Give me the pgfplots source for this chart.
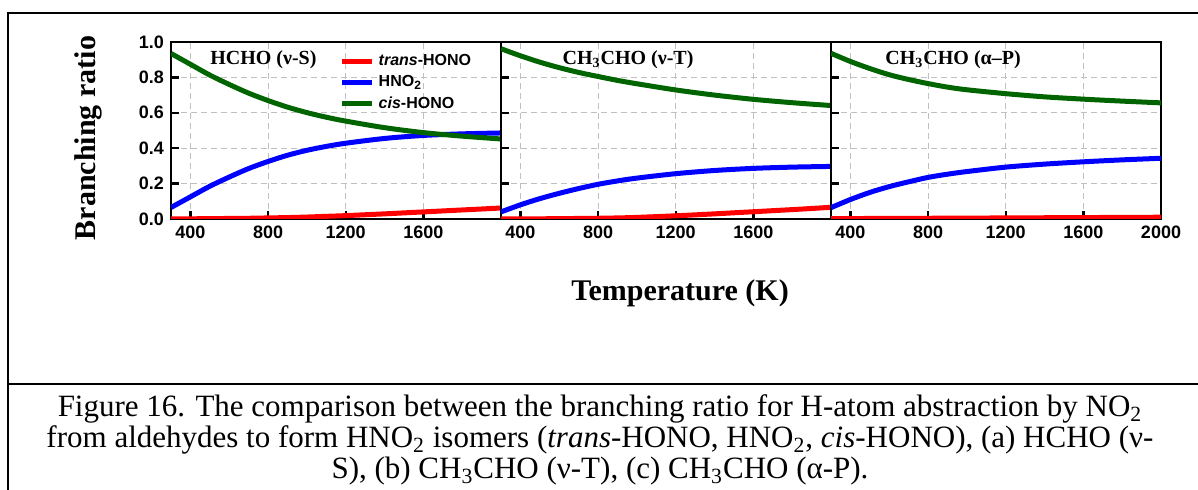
\documentclass[border=0pt]{standalone}
\usepackage{fontspec}
\setmainfont{Liberation Serif}
\setsansfont{Liberation Sans}
\usepackage{pgfplots}
\usepackage{pgfplotstable}
\pgfplotsset{compat=1.18}
\definecolor{dgreen}{RGB}{0,100,0}

\pgfplotstableread{
T     tr     hno2   cis
300   0.000  0.065  0.935
400   0.001  0.125  0.874
500   0.002  0.185  0.813
600   0.003  0.237  0.760
700   0.004  0.285  0.711
800   0.006  0.325  0.669
900   0.008  0.360  0.632
1000  0.011  0.388  0.601
1100  0.015  0.410  0.575
1200  0.019  0.428  0.553
1400  0.029  0.455  0.516
1600  0.040  0.472  0.488
1800  0.051  0.481  0.468
2000  0.062  0.486  0.452
}\tabA

\pgfplotstableread{
T     tr     hno2   cis
300   0.000  0.040  0.962
400   0.000  0.080  0.922
500   0.001  0.115  0.886
600   0.002  0.145  0.855
700   0.003  0.172  0.828
800   0.004  0.196  0.805
900   0.006  0.215  0.783
1000  0.009  0.231  0.764
1200  0.018  0.256  0.729
1400  0.029  0.274  0.700
1600  0.041  0.286  0.676
1800  0.053  0.293  0.657
2000  0.066  0.297  0.641
}\tabB

\pgfplotstableread{
T     tr     hno2   cis
300   0.002  0.064  0.936
400   0.002  0.110  0.890
500   0.003  0.150  0.850
600   0.003  0.183  0.815
700   0.004  0.210  0.788
800   0.004  0.235  0.765
900   0.005  0.253  0.745
1000  0.005  0.268  0.730
1200  0.006  0.293  0.708
1400  0.007  0.310  0.690
1600  0.008  0.323  0.677
1800  0.009  0.334  0.666
2000  0.010  0.343  0.656
}\tabC

\pgfplotsset{
  panel/.style={
    scale only axis, width=165pt, height=88.5pt,
    xmin=300, xmax=2000, ymin=0, ymax=1,
    ytick={0,0.2,0.4,0.6,0.8,1.0},
    tick align=inside, xtick pos=bottom, ytick pos=left,
    major tick length=4pt,
    every tick/.style={black, line width=1.2pt},
    axis line style={line width=1.2pt},
    grid=major,
    major grid style={gray!50, line width=0.5pt, dash pattern=on 3pt off 2pt},
    tick label style={font=\sffamily\bfseries\fontsize{9}{10}\selectfont},
    /pgf/number format/assume math mode=true,
    yticklabel style={/pgf/number format/fixed, /pgf/number format/fixed zerofill, /pgf/number format/precision=1},
    xticklabel style={/pgf/number format/1000 sep={}},
    clip=true,
  },
  trs/.style={red, line width=2.5pt, smooth},
  hn/.style={blue, line width=2.5pt, smooth},
  cs/.style={dgreen, line width=2.5pt, smooth},
}

\begin{document}
\begin{tikzpicture}
\useasboundingbox (0,0) rectangle (599pt,245pt);
% frame
\draw[line width=1pt] (4pt,-10pt) -- (4pt,238.5pt) -- (620pt,238.5pt);
\draw[line width=1pt] (4pt,53pt) -- (620pt,53pt);

% panel (a)
\begin{axis}[panel, at={(85.5pt,135.5pt)}, anchor=south west,
  xtick={400,800,1200,1600},
  legend style={at={(rel axis cs:0.51,0.955)}, anchor=north west, draw=none, fill=none,
    font=\sffamily\bfseries\fontsize{8}{9}\selectfont, row sep=-0.5pt, inner sep=0pt},
  legend cell align=left,
  legend image code/.code={\draw[#1, line width=2.5pt] (0pt,0pt) -- (15pt,0pt);}]
\addplot[trs] table[x=T,y=tr]{\tabA};
\addlegendentry{\textit{trans}-HONO}
\addplot[hn] table[x=T,y=hno2]{\tabA};
\addlegendentry{HNO\textsubscript{2}}
\addplot[cs] table[x=T,y=cis]{\tabA};
\addlegendentry{\textit{cis}-HONO}
\node[font=\bfseries\fontsize{10}{12}\selectfont] at (rel axis cs:0.28,0.9) {HCHO (ν-S)};
\end{axis}

% panel (b)
\begin{axis}[panel, at={(250.5pt,135.5pt)}, anchor=south west,
  xtick={400,800,1200,1600}, yticklabels={}]
\addplot[trs] table[x=T,y=tr]{\tabB};
\addplot[hn] table[x=T,y=hno2]{\tabB};
\addplot[cs] table[x=T,y=cis]{\tabB};
\node[font=\bfseries\fontsize{10}{12}\selectfont] at (rel axis cs:0.385,0.9) {CH\textsubscript{3}CHO (ν-T)};
\end{axis}

% panel (c)
\begin{axis}[panel, at={(415.5pt,135.5pt)}, anchor=south west,
  xtick={400,800,1200,1600,2000}, yticklabels={}]
\addplot[trs] table[x=T,y=tr]{\tabC};
\addplot[hn] table[x=T,y=hno2]{\tabC};
\addplot[cs] table[x=T,y=cis]{\tabC};
\node[font=\bfseries\fontsize{10}{12}\selectfont] at (rel axis cs:0.37,0.9) {CH\textsubscript{3}CHO (α–P)};
\end{axis}

% axis labels
\node[rotate=90, font=\bfseries\fontsize{15}{18}\selectfont] at (44pt,176pt) {Branching ratio};
\node[font=\bfseries\fontsize{15}{18}\selectfont] at (340pt,98.5pt) {Temperature (K)};

% caption
\node[anchor=base, font=\fontsize{15.5}{17}\selectfont] at (300pt,36.5pt) {Figure 16. The comparison between the branching ratio for H-atom abstraction by NO\textsubscript{2}};
\node[anchor=base, font=\fontsize{15.5}{17}\selectfont] at (300pt,21pt) {from aldehydes to form HNO\textsubscript{2} isomers (\textit{trans}-HONO, HNO\textsubscript{2}, \textit{cis}-HONO), (a) HCHO (ν-};
\node[anchor=base, font=\fontsize{15.5}{17}\selectfont] at (300pt,5.5pt) {S), (b) CH\textsubscript{3}CHO (ν-T), (c) CH\textsubscript{3}CHO (α-P).};
\end{tikzpicture}
\end{document}
